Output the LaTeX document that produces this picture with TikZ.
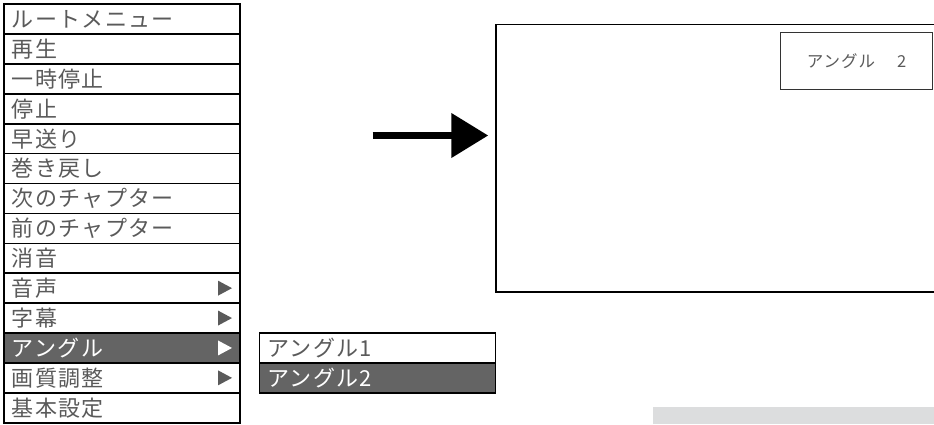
\documentclass[tikz,border=0pt]{standalone}
\usepackage{fontspec}
\setmainfont{Noto Sans CJK JP}[LetterSpace=6]
\usetikzlibrary{arrows.meta,positioning,calc}
\definecolor{menutext}{HTML}{5A5A5A}
\definecolor{menusel}{HTML}{646464}
\definecolor{barfill}{HTML}{DCDDDE}

\begin{document}
\begin{tikzpicture}[x=1pt,y=-1pt,
	every node/.style={font=\fontsize{22pt}{24pt}\selectfont},
	item/.style={draw=black,line width=1.6pt,outer sep=0pt,inner xsep=8pt,
		minimum height=29.9pt,text width=220pt,align=left,
		text height=19pt,text depth=2.2pt,text=menutext,fill=white},
	selitem/.style={item,fill=menusel,text=white},
	screenbox/.style={draw=black,line width=1.4pt,outer sep=0pt,minimum width=440pt,minimum height=267.7pt},
	labelbox/.style={draw=black!80,line width=1.1pt,outer sep=0pt,minimum width=151.6pt,minimum height=56.6pt,
		text=menutext,font=\fontsize{16.5pt}{18pt}\selectfont}]
	\useasboundingbox (0,0) rectangle (934,424);
	\clip (0,0) rectangle (934,424);

	% root menu
	\node[item,anchor=north west] (root) at (4,4.1) {ルートメニュー};
	\node[item,below=0pt of root] (play) {再生};
	\node[item,below=0pt of play] (pause) {一時停止};
	\node[item,below=0pt of pause] (stop) {停止};
	\node[item,below=0pt of stop] (ffwd) {早送り};
	\node[item,below=0pt of ffwd] (rewind) {巻き戻し};
	\node[item,below=0pt of rewind] (nextch) {次のチャプター};
	\node[item,below=0pt of nextch] (prevch) {前のチャプター};
	\node[item,below=0pt of prevch] (mute) {消音};
	\node[item,below=0pt of mute] (voice) {音声};
	\node[item,below=0pt of voice] (subtitle) {字幕};
	\node[selitem,below=0pt of subtitle] (angle) {アングル};
	\node[item,below=0pt of angle] (quality) {画質調整};
	\node[item,below=0pt of quality] (setup) {基本設定};

	% submenu marks
	\foreach \r in {voice,subtitle,quality}
		\fill[menutext] ($(\r.east)+(-22,-7.5)$) -- ++(14,7.5) -- ++(-14,7.5) -- cycle;
	\fill[white] ($(angle.east)+(-22,-7.5)$) -- ++(14,7.5) -- ++(-14,7.5) -- cycle;

	% angle submenu
	\node[item,anchor=north west] (angle1) at ([xshift=19.3pt]angle.north east) {アングル1};
	\node[selitem,below=0pt of angle1] (angle2) {アングル2};

	% screen
	\node[screenbox,anchor=north west] (screen) at (496,24.3) {};
	\node[labelbox,anchor=north west] (anglelabel) at (780.7,32.7) {アングル\hspace{22pt}2};

	\coordinate (arrowtail) at (372.7,135.5);
	\coordinate (arrowtip) at (488.3,135.5);
	\draw[line width=7.5pt,-{Triangle[length=37pt,width=43pt]}] (arrowtail) -- (arrowtip);

	\fill[barfill] (652.7,406.7) rectangle (934,424);
\end{tikzpicture}
\end{document}
